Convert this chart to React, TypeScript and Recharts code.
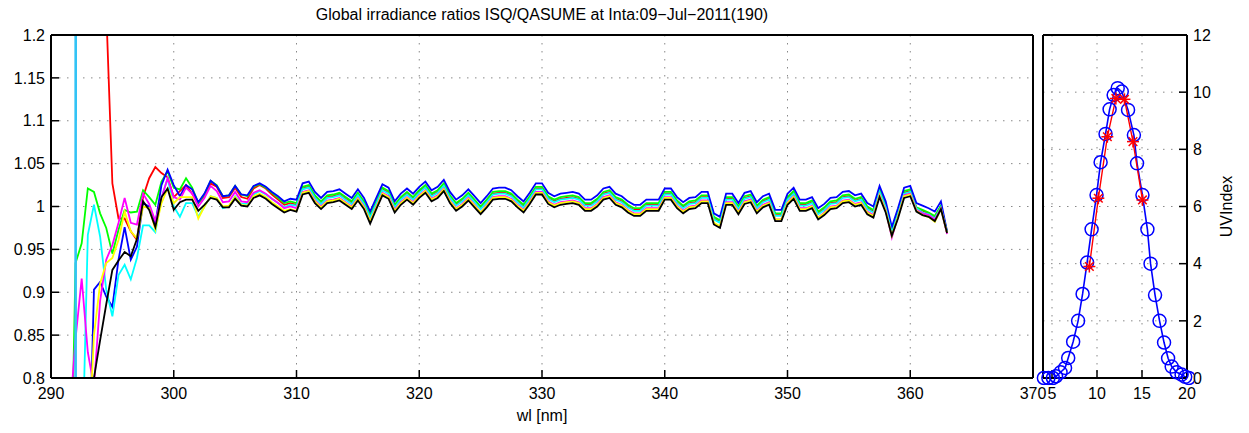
import { LineChart, Line, XAxis, YAxis, CartesianGrid } from 'recharts';

// wavelength grid [nm]
const wavelengths = [
  291.5, 292, 292.5, 293, 293.5, 294, 294.5, 295, 295.5, 296, 296.5, 297, 297.5, 298, 298.5, 299, 299.5,
  300, 300.5, 301, 301.5, 302, 302.5, 303, 303.5, 304, 304.5, 305, 305.5, 306, 306.5, 307, 307.5, 308, 308.5, 309, 309.5,
  310, 310.5, 311, 311.5, 312, 312.5, 313, 313.5, 314, 314.5, 315, 315.5, 316, 316.5, 317, 317.5, 318, 318.5, 319, 319.5,
  320, 320.5, 321, 321.5, 322, 322.5, 323, 323.5, 324, 324.5, 325, 325.5, 326, 326.5, 327, 327.5, 328, 328.5, 329, 329.5,
  330, 330.5, 331, 331.5, 332, 332.5, 333, 333.5, 334, 334.5, 335, 335.5, 336, 336.5, 337, 337.5, 338, 338.5, 339, 339.5,
  340, 340.5, 341, 341.5, 342, 342.5, 343, 343.5, 344, 344.5, 345, 345.5, 346, 346.5, 347, 347.5, 348, 348.5, 349, 349.5,
  350, 350.5, 351, 351.5, 352, 352.5, 353, 353.5, 354, 354.5, 355, 355.5, 356, 356.5, 357, 357.5, 358, 358.5, 359, 359.5,
  360, 360.5, 361, 361.5, 362, 362.5, 363,
];

const ratioRed = [
  null, null, null, null, null, 3, 1.23, 1.027, 0.986, 0.986, 0.971, 0.961, 1.011, 1.033, 1.046, 1.039, 1.034,
  1.011, 1.018, 1.025, 1.015, 1.004, 1.012, 1.027, 1.023, 1.010, 1.011, 1.022, 1.011, 1.009, 1.021, 1.025, 1.021, 1.014, 1.008, 1.002, 1.004,
  1.002, 1.021, 1.023, 1.011, 1.004, 1.011, 1.012, 1.014, 1.009, 1.004, 1.014, 1.004, 0.988, 1.004, 1.020, 1.016, 1.000, 1.009, 1.015, 1.009,
  1.017, 1.023, 1.013, 1.017, 1.025, 1.011, 1.002, 1.007, 1.014, 1.006, 0.998, 1.006, 1.015, 1.016, 1.016, 1.013, 1.006, 1.000, 1.010, 1.021,
  1.021, 1.010, 1.006, 1.009, 1.010, 1.011, 1.009, 1.002, 1.002, 1.007, 1.015, 1.017, 1.009, 1.006, 1.000, 0.996, 0.996, 1.002, 1.002, 1.002,
  1.015, 1.015, 1.005, 0.999, 1.004, 1.005, 1.011, 1.011, 0.986, 0.982, 1.009, 1.009, 0.998, 1.010, 1.012, 0.999, 1.006, 1.009, 0.990, 0.990,
  1.009, 1.016, 1.002, 1.002, 1.005, 0.992, 0.997, 1.004, 1.005, 1.011, 1.012, 1.007, 1.009, 0.998, 0.994, 1.018, 1.000, 0.970, 0.992, 1.016,
  1.018, 0.998, 0.995, 0.992, 0.988, 1.000, 0.969,
];

const ratioGreen = [
  0.57, 0.934, 0.957, 1.021, 1.017, 0.992, 0.975, 0.945, 0.973, 0.996, 0.993, 0.994, 1.019, 1.011, 1.002, 1.029, 1.041,
  1.022, 1.020, 1.033, 1.022, 1.004, 1.014, 1.030, 1.025, 1.012, 1.013, 1.024, 1.014, 1.012, 1.023, 1.026, 1.022, 1.016, 1.010, 1.004, 1.006,
  1.004, 1.023, 1.025, 1.013, 1.006, 1.013, 1.014, 1.016, 1.011, 1.006, 1.016, 1.006, 0.990, 1.006, 1.022, 1.018, 1.002, 1.011, 1.017, 1.011,
  1.019, 1.025, 1.015, 1.019, 1.027, 1.013, 1.004, 1.009, 1.016, 1.008, 1.000, 1.008, 1.017, 1.018, 1.018, 1.015, 1.008, 1.002, 1.012, 1.023,
  1.023, 1.012, 1.008, 1.011, 1.012, 1.013, 1.011, 1.004, 1.004, 1.009, 1.017, 1.019, 1.011, 1.008, 1.002, 0.998, 0.998, 1.004, 1.004, 1.004,
  1.017, 1.017, 1.007, 1.001, 1.006, 1.007, 1.013, 1.013, 0.988, 0.984, 1.011, 1.011, 1.000, 1.012, 1.014, 1.001, 1.008, 1.011, 0.992, 0.992,
  1.011, 1.018, 1.004, 1.004, 1.007, 0.994, 0.999, 1.006, 1.007, 1.013, 1.014, 1.009, 1.011, 1.000, 0.996, 1.020, 1.002, 0.972, 0.994, 1.018,
  1.020, 0.999, 0.996, 0.993, 0.989, 1.001, 0.970,
];

const ratioBlue = [
  null, null, null, 0.63, 0.903, 0.912, 0.895, 0.883, 0.938, 0.976, 0.938, 0.953, 1.004, 1.000, 0.980, 1.025, 1.043,
  1.025, 1.012, 1.025, 1.020, 1.005, 1.015, 1.030, 1.024, 1.012, 1.013, 1.024, 1.014, 1.013, 1.024, 1.027, 1.023, 1.017, 1.012, 1.006, 1.009,
  1.008, 1.027, 1.029, 1.017, 1.010, 1.017, 1.018, 1.020, 1.015, 1.010, 1.020, 1.010, 0.994, 1.010, 1.026, 1.022, 1.006, 1.015, 1.021, 1.015,
  1.023, 1.029, 1.019, 1.023, 1.031, 1.017, 1.008, 1.013, 1.020, 1.012, 1.004, 1.012, 1.021, 1.022, 1.022, 1.019, 1.012, 1.006, 1.016, 1.027,
  1.027, 1.016, 1.012, 1.015, 1.016, 1.017, 1.015, 1.008, 1.008, 1.013, 1.021, 1.023, 1.015, 1.012, 1.006, 1.002, 1.002, 1.008, 1.008, 1.008,
  1.021, 1.021, 1.011, 1.005, 1.010, 1.011, 1.017, 1.017, 0.992, 0.988, 1.015, 1.015, 1.004, 1.016, 1.018, 1.005, 1.012, 1.015, 0.996, 0.996,
  1.015, 1.022, 1.008, 1.008, 1.011, 0.998, 1.003, 1.010, 1.011, 1.017, 1.018, 1.013, 1.015, 1.004, 1.000, 1.024, 1.006, 0.976, 0.998, 1.022,
  1.024, 1.004, 1.001, 0.998, 0.994, 1.006, 0.971,
];

const ratioCyan = [
  null, null, 0.68, 0.967, 1.002, 0.965, 0.903, 0.872, 0.92, 0.932, 0.915, 0.94, 0.978, 0.978, 0.97, 1.01, 1.033,
  1.000, 0.988, 1.004, 1.004, 0.988, 1.000, 1.012, 1.010, 0.998, 1.000, 1.012, 1.003, 1.003, 1.014, 1.018, 1.014, 1.009, 1.004, 0.999, 1.002,
  1.001, 1.020, 1.022, 1.010, 1.003, 1.010, 1.011, 1.013, 1.008, 1.003, 1.013, 1.003, 0.987, 1.003, 1.019, 1.015, 0.999, 1.008, 1.014, 1.008,
  1.016, 1.022, 1.012, 1.016, 1.024, 1.010, 1.001, 1.006, 1.013, 1.005, 0.997, 1.005, 1.014, 1.015, 1.015, 1.012, 1.005, 0.999, 1.009, 1.020,
  1.020, 1.009, 1.005, 1.008, 1.009, 1.010, 1.008, 1.001, 1.001, 1.006, 1.014, 1.016, 1.008, 1.005, 0.999, 0.995, 0.995, 1.001, 1.001, 1.001,
  1.014, 1.014, 1.004, 0.998, 1.003, 1.004, 1.010, 1.010, 0.985, 0.981, 1.008, 1.008, 0.997, 1.009, 1.011, 0.998, 1.005, 1.008, 0.989, 0.989,
  1.008, 1.015, 1.001, 1.001, 1.004, 0.991, 0.996, 1.003, 1.004, 1.010, 1.011, 1.006, 1.008, 0.997, 0.993, 1.017, 0.999, 0.969, 0.991, 1.015,
  1.017, 0.998, 0.993, 0.991, 0.986, 0.999, 0.969,
];

const ratioMagenta = [
  0.75, 0.846, 0.916, 0.83, 0.79, 0.89, 0.938, 0.955, 0.981, 1.010, 0.981, 0.979, 1.015, 1.003, 0.983, 1.01, 1.033,
  1.011, 1.008, 1.022, 1.015, 1.000, 1.010, 1.024, 1.018, 1.005, 1.006, 1.017, 1.006, 1.005, 1.016, 1.019, 1.015, 1.009, 1.004, 0.998, 1.000,
  0.998, 1.017, 1.019, 1.007, 1.000, 1.007, 1.008, 1.010, 1.005, 1.000, 1.010, 1.000, 0.983, 1.000, 1.016, 1.012, 0.996, 1.005, 1.011, 1.005,
  1.013, 1.019, 1.009, 1.013, 1.021, 1.007, 0.998, 1.003, 1.010, 1.002, 0.993, 1.002, 1.011, 1.012, 1.012, 1.009, 1.002, 0.996, 1.006, 1.017,
  1.017, 1.006, 1.002, 1.005, 1.006, 1.007, 1.005, 0.998, 0.998, 1.003, 1.011, 1.013, 1.005, 1.002, 0.996, 0.992, 0.992, 0.998, 0.998, 0.998,
  1.011, 1.011, 1.001, 0.995, 1.000, 1.001, 1.007, 1.007, 0.980, 0.976, 1.005, 1.005, 0.994, 1.006, 1.008, 0.995, 1.002, 1.005, 0.985, 0.985,
  1.005, 1.012, 0.998, 0.998, 1.001, 0.987, 0.993, 1.000, 1.001, 1.007, 1.008, 1.003, 1.005, 0.994, 0.990, 1.014, 0.996, 0.964, 0.988, 1.013,
  1.015, 0.996, 0.992, 0.990, 0.985, 0.998, 0.968,
];

const ratioYellow = [
  null, null, null, 0.7, 0.85, 0.91, 0.934, 0.940, 0.961, 0.994, 0.971, 0.963, 1.0, 0.998, 0.973, 1.004, 1.021,
  1.004, 1.011, 1.011, 1.011, 0.986, 1.000, 1.012, 1.010, 1.000, 1.001, 1.011, 1.002, 1.001, 1.012, 1.015, 1.011, 1.005, 1.000, 0.995, 0.997,
  0.995, 1.016, 1.018, 1.006, 0.999, 1.006, 1.007, 1.009, 1.004, 0.999, 1.009, 0.999, 0.983, 0.999, 1.015, 1.011, 0.995, 1.004, 1.010, 1.004,
  1.012, 1.018, 1.008, 1.012, 1.020, 1.006, 0.997, 1.002, 1.009, 1.001, 0.993, 1.001, 1.010, 1.011, 1.011, 1.008, 1.001, 0.995, 1.005, 1.016,
  1.016, 1.005, 1.001, 1.004, 1.005, 1.006, 1.004, 0.997, 0.997, 1.002, 1.010, 1.012, 1.004, 1.001, 0.995, 0.991, 0.991, 0.997, 0.997, 0.997,
  1.010, 1.010, 1.000, 0.994, 0.999, 1.000, 1.006, 1.006, 0.981, 0.977, 1.004, 1.004, 0.993, 1.005, 1.007, 0.994, 1.001, 1.004, 0.985, 0.985,
  1.004, 1.011, 0.997, 0.997, 1.000, 0.987, 0.992, 0.999, 1.000, 1.006, 1.007, 1.002, 1.004, 0.993, 0.989, 1.013, 0.995, 0.966, 0.988, 1.012,
  1.014, 0.995, 0.990, 0.988, 0.982, 0.997, 0.969,
];

const ratioBlack = [
  null, null, null, 0.6, 0.8, 0.844, 0.886, 0.926, 0.937, 0.947, 0.942, 0.962, 1.006, 0.996, 0.976, 1.011, 1.021,
  0.996, 1.005, 1.008, 1.008, 0.995, 1.002, 1.010, 1.008, 0.999, 0.999, 1.009, 1.001, 1.000, 1.010, 1.013, 1.009, 1.003, 0.998, 0.993, 0.996,
  0.994, 1.014, 1.016, 1.004, 0.997, 1.004, 1.005, 1.007, 1.002, 0.997, 1.007, 0.997, 0.980, 0.997, 1.013, 1.009, 0.993, 1.002, 1.008, 1.002,
  1.010, 1.016, 1.006, 1.010, 1.018, 1.004, 0.995, 1.000, 1.007, 0.999, 0.991, 0.999, 1.008, 1.009, 1.009, 1.006, 0.999, 0.993, 1.003, 1.014,
  1.014, 1.003, 0.999, 1.002, 1.003, 1.004, 1.002, 0.995, 0.995, 1.000, 1.008, 1.010, 1.002, 0.999, 0.993, 0.989, 0.989, 0.995, 0.995, 0.995,
  1.008, 1.008, 0.998, 0.992, 0.997, 0.998, 1.004, 1.004, 0.979, 0.975, 1.002, 1.002, 0.991, 1.003, 1.005, 0.992, 0.999, 1.002, 0.983, 0.983,
  1.002, 1.009, 0.995, 0.995, 0.998, 0.985, 0.990, 0.997, 0.998, 1.004, 1.005, 1.000, 1.002, 0.991, 0.987, 1.011, 0.993, 0.966, 0.986, 1.010,
  1.012, 0.994, 0.990, 0.988, 0.983, 0.997, 0.969,
];

// off-scale spike near 292 nm
const ratioSky = [null, 0.5, 30];

const wlTicks = [290, 300, 310, 320, 330, 340, 350, 360, 370];
const ratioTicks = [0.8, 0.85, 0.9, 0.95, 1, 1.05, 1.1, 1.15, 1.2];

// UV index over the day
const isqHours = [
  4.1, 4.6, 5.1, 5.45, 5.95, 6.45, 6.8, 7.35, 7.9, 8.4, 8.9, 9.4, 9.95, 10.4, 10.95, 11.4, 11.85,
  12.3, 12.75, 13.45, 14.1, 14.45, 15.05, 15.6, 15.95, 16.45, 16.95, 17.45, 17.9, 18.3, 18.85, 19.4, 19.8, 20.2,
];
const isqUv = [
  0, 0, 0, 0.06, 0.2, 0.35, 0.7, 1.27, 2.0, 2.94, 4.04, 5.2, 6.4, 7.55, 8.54, 9.4, 9.9,
  10.14, 10.02, 9.38, 8.5, 7.51, 6.4, 5.2, 4.0, 2.9, 2.0, 1.24, 0.69, 0.4, 0.2, 0.12, 0.04, 0,
];
const qasumeHours = [9.15, 10.15, 11.15, 12.1, 13.05, 14.0, 15.05];
const qasumeUv = [3.9, 6.29, 8.44, 9.78, 9.75, 8.27, 6.23];

const hourTicks = [5, 10, 15, 20];
const uvTicks = [0, 2, 4, 6, 8, 10, 12];

const series = [
  { key: 'red', color: '#ff0000', values: ratioRed, width: 1.8 },
  { key: 'green', color: '#00ff00', values: ratioGreen, width: 1.8 },
  { key: 'blue', color: '#0000ff', values: ratioBlue, width: 1.8 },
  { key: 'cyan', color: '#00ffff', values: ratioCyan, width: 1.8 },
  { key: 'magenta', color: '#ff00ff', values: ratioMagenta, width: 1.8 },
  { key: 'yellow', color: '#ffff00', values: ratioYellow, width: 1.8 },
  { key: 'black', color: '#000000', values: ratioBlack, width: 1.8 },
  { key: 'sky', color: '#33c3f5', values: ratioSky, width: 2.6 },
];

const ratioRows = wavelengths.map((wl, i) => {
  const row: Record<string, number | null> = { wl };
  series.forEach((s) => {
    row[s.key] = s.values[i] ?? null;
  });
  return row;
});

const isqRows = isqHours.map((hour, i) => ({ hour, uv: isqUv[i] }));
const qasumeRows = qasumeHours.map((hour, i) => ({ hour, uv: qasumeUv[i] }));

const font = "'Liberation Sans', Arial, Helvetica, sans-serif";
const tickText = { fill: '#000', fontSize: 16 };
const axisStroke = { stroke: '#000', strokeWidth: 2 };
const tickStroke = { stroke: '#000', strokeWidth: 1.5 };

const Asterisk = (props: any) => {
  const { cx, cy } = props;
  if (cx == null || cy == null) return null;
  const s = 6;
  const d = 4.3;
  return (
    <g stroke="#ff0000" strokeWidth={1.5}>
      <line x1={cx - s} y1={cy} x2={cx + s} y2={cy} />
      <line x1={cx} y1={cy - s} x2={cx} y2={cy + s} />
      <line x1={cx - d} y1={cy - d} x2={cx + d} y2={cy + d} />
      <line x1={cx - d} y1={cy + d} x2={cx + d} y2={cy - d} />
    </g>
  );
};

export default function App() {
  return (
    <div
      style={{
        position: 'absolute',
        left: 0,
        top: 0,
        width: 1249,
        height: 433,
        overflow: 'hidden',
        background: '#fff',
        fontFamily: font,
      }}
    >
      <div
        style={{
          position: 'absolute',
          left: 0,
          top: 6,
          width: 1084,
          textAlign: 'center',
          fontSize: 16,
          color: '#000',
        }}
      >
        Global irradiance ratios ISQ/QASUME at Inta:09−Jul−2011(190)
      </div>

      <div style={{ position: 'absolute', left: 0, top: 0 }}>
        <LineChart width={1060} height={433} data={ratioRows} margin={{ top: 34, right: 26, bottom: 25, left: 0 }}>
          <CartesianGrid stroke="#888" strokeDasharray="1.5 6.5" />
          <XAxis
            dataKey="wl"
            type="number"
            domain={[290, 370]}
            ticks={wlTicks}
            allowDataOverflow
            interval={0}
            height={30}
            tick={tickText}
            tickSize={-8}
            tickMargin={18}
            axisLine={axisStroke}
            tickLine={tickStroke}
            label={{ value: 'wl [nm]', position: 'bottom', offset: 2, fill: '#000', fontSize: 16 }}
          />
          <XAxis
            xAxisId="top"
            orientation="top"
            dataKey="wl"
            type="number"
            domain={[290, 370]}
            ticks={wlTicks}
            allowDataOverflow
            interval={0}
            height={1}
            tick={false}
            tickSize={-8}
            axisLine={axisStroke}
            tickLine={tickStroke}
          />
          <YAxis
            type="number"
            domain={[0.8, 1.2]}
            ticks={ratioTicks}
            allowDataOverflow
            interval={0}
            width={51}
            tick={tickText}
            tickSize={-8}
            tickMargin={14}
            axisLine={axisStroke}
            tickLine={tickStroke}
          />
          <YAxis
            yAxisId="right"
            orientation="right"
            type="number"
            domain={[0.8, 1.2]}
            ticks={ratioTicks}
            allowDataOverflow
            interval={0}
            width={1}
            tick={false}
            tickSize={-8}
            axisLine={axisStroke}
            tickLine={tickStroke}
          />
          {series.map((s) => (
            <Line
              key={s.key}
              dataKey={s.key}
              stroke={s.color}
              strokeWidth={s.width}
              dot={false}
              activeDot={false}
              connectNulls={false}
              isAnimationActive={false}
            />
          ))}
          <Line
            xAxisId="top"
            yAxisId="right"
            dataKey="black"
            stroke="none"
            dot={false}
            activeDot={false}
            isAnimationActive={false}
          />
        </LineChart>
      </div>

      <div style={{ position: 'absolute', left: 1036, top: 0 }}>
        <LineChart width={229} height={433} margin={{ top: 34, right: 0, bottom: 25, left: 6 }}>
          <CartesianGrid stroke="#888" strokeDasharray="1.5 6.5" />
          <XAxis
            dataKey="hour"
            type="number"
            domain={[4, 20]}
            ticks={hourTicks}
            allowDataOverflow
            interval={0}
            height={30}
            tick={tickText}
            tickSize={-8}
            tickMargin={18}
            axisLine={axisStroke}
            tickLine={tickStroke}
          />
          <XAxis
            xAxisId="top"
            orientation="top"
            dataKey="hour"
            type="number"
            domain={[4, 20]}
            ticks={hourTicks}
            allowDataOverflow
            interval={0}
            height={1}
            tick={false}
            tickSize={-8}
            axisLine={axisStroke}
            tickLine={tickStroke}
          />
          <YAxis
            orientation="right"
            type="number"
            domain={[0, 12]}
            ticks={uvTicks}
            allowDataOverflow
            interval={0}
            width={78}
            tick={tickText}
            tickSize={-8}
            tickMargin={14}
            axisLine={axisStroke}
            tickLine={tickStroke}
            label={{ value: 'UVIndex', angle: -90, position: 'center', fill: '#000', fontSize: 16 }}
          />
          <YAxis
            yAxisId="left"
            orientation="left"
            type="number"
            domain={[0, 12]}
            ticks={uvTicks}
            allowDataOverflow
            interval={0}
            width={1}
            tick={false}
            tickSize={-8}
            axisLine={axisStroke}
            tickLine={tickStroke}
          />
          <Line
            data={isqRows}
            dataKey="uv"
            stroke="#0000ff"
            strokeWidth={1.6}
            dot={{ r: 6.5, stroke: '#0000ff', strokeWidth: 1.5, fill: 'none', clipDot: false }}
            activeDot={false}
            isAnimationActive={false}
          />
          <Line
            data={qasumeRows}
            dataKey="uv"
            stroke="#ff0000"
            strokeWidth={1.4}
            dot={<Asterisk />}
            activeDot={false}
            isAnimationActive={false}
          />
          <Line
            data={isqRows}
            xAxisId="top"
            yAxisId="left"
            dataKey="uv"
            stroke="none"
            dot={false}
            activeDot={false}
            isAnimationActive={false}
          />
        </LineChart>
      </div>
    </div>
  );
}
